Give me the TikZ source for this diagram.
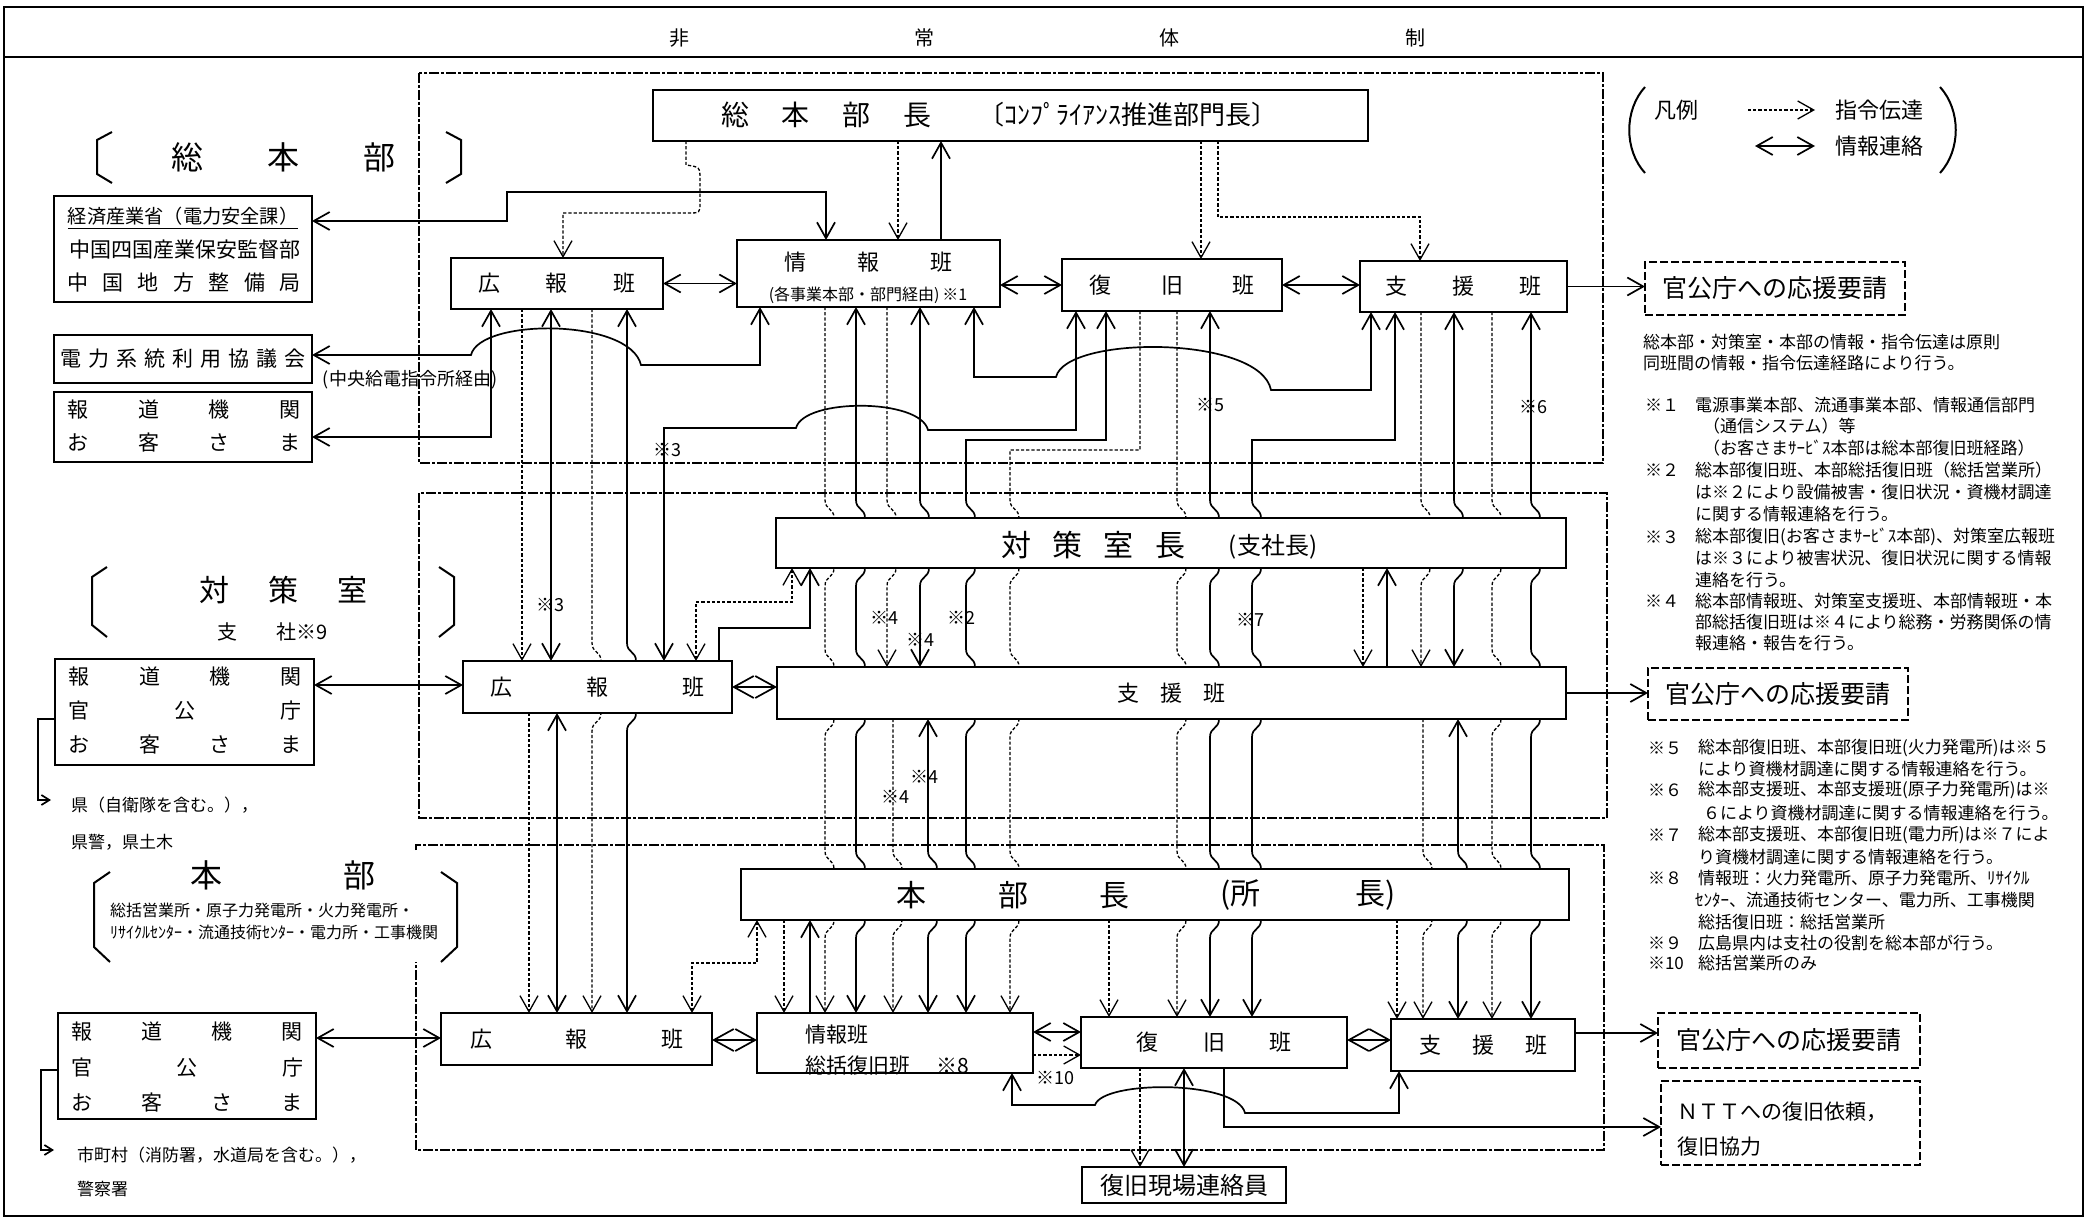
\documentclass[tikz,border=0pt]{standalone}
\usepackage{fontspec}
\setmainfont{Noto Sans CJK JP}
\usetikzlibrary{arrows.meta}
\pgfdeclarelayer{bg}
\pgfsetlayers{bg,main}
\newlength\upx \setlength\upx{0.5pt}
\newcommand{\FS}[1]{\fontsize{#1}{#1}\selectfont}
\newcommand{\BX}[7][]{\node[box,#1,minimum width={(#5-#3)*0.5pt},minimum height={(#6-#4)*0.5pt}] (#2) at ({(#3+#5)/2},{(#4+#6)/2}) {#7};}
\newcommand{\THR}[5]{\draw[#1] #2 \foreach \jT/\jB in {#5} { -- (#3,\jT-18) .. controls (#3,\jT-8) and (#3+9,\jT-10) .. (#3+9,\jT) -- (#3+9,\jB) .. controls (#3+9,\jB+10) and (#3,\jB+8) .. (#3,\jB+18) } -- #4;}
\tikzset{
  x=0.5pt, y=-0.5pt,
  box/.style={draw, line width=1pt, fill=white, inner sep=0pt, outer sep=0pt},
  dbox/.style={dash pattern=on 4pt off 1.5pt, line width=1.1pt},
  frm/.style={line width=1.2pt, dash pattern=on 5pt off 1pt on 1.5pt off 1pt},
  ln/.style={line width=0.85pt},
  dl/.style={line width=0.65pt, dash pattern=on 1.6pt off 1pt},
  ar/.style={-{Straight Barb[length=8pt,width=9pt]}},
  aa/.style={{Straight Barb[length=8pt,width=9pt]}-{Straight Barb[length=8pt,width=9pt]}},
  dia/.style={{Straight Barb[length=10pt,width=11pt]}-{Straight Barb[length=10pt,width=11pt]}},
  sar/.style={-{Straight Barb[length=4pt,width=5pt]}},
  txt/.style={inner sep=0pt, outer sep=0pt},
}
\begin{document}
\begin{tikzpicture}
\useasboundingbox (0,0) rectangle (2088,1225);
% ---------------- boxes ----------------
\BX{gm}{653}{90}{1368}{141}{}
\BX{tkoho}{451}{258}{663}{309}{\FS{11}\makebox[158\upx]{広\hfill 報\hfill 班}}
\BX{tjoho}{737}{240}{1000}{307}{}
\BX{tfk}{1062}{259}{1282}{311}{\FS{11}\makebox[165\upx]{復\hfill 旧\hfill 班}}
\BX{tsh}{1360}{261}{1567}{312}{\FS{11}\makebox[156\upx]{支\hfill 援\hfill 班}}
\BX[dbox]{tkan}{1645}{262}{1905}{315}{\FS{12.5}官公庁への応援要請}
\BX{meti}{54}{196}{312}{302}{}
\BX{denryoku}{54}{335}{312}{383}{\FS{10.5}\makebox[246\upx]{電\hfill 力\hfill 系\hfill 統\hfill 利\hfill 用\hfill 協\hfill 議\hfill 会}}
\BX{thodo}{54}{392}{312}{462}{}
\BX{mcho}{776}{518}{1566}{568}{}
\BX{mkoho}{463}{661}{732}{713}{\FS{11}\makebox[214\upx]{広\hfill 報\hfill 班}}
\BX{msh}{777}{667}{1566}{719}{\FS{11}\makebox[108\upx]{支\hfill 援\hfill 班}}
\BX[dbox]{mkan}{1648}{668}{1908}{720}{\FS{12.5}官公庁への応援要請}
\BX{mhodo}{55}{659}{314}{765}{}
\BX{bcho}{741}{869}{1569}{920}{}
\BX{bkoho}{441}{1013}{712}{1065}{\FS{11}\makebox[213\upx]{広\hfill 報\hfill 班}}
\BX{bjoho}{757}{1013}{1033}{1073}{}
\BX{bfk}{1081}{1017}{1347}{1068}{\FS{11}\makebox[156\upx]{復\hfill 旧\hfill 班}}
\BX{bsh}{1391}{1019}{1575}{1071}{\FS{11}\makebox[128\upx]{支\hfill 援\hfill 班}}
\BX[dbox]{bkan}{1658}{1013}{1920}{1068}{\FS{12.5}官公庁への応援要請}
\BX[dbox]{ntt}{1661}{1081}{1920}{1165}{}
\BX{genba}{1082}{1167}{1286}{1203}{\FS{12}復旧現場連絡員}
\BX{bhodo}{58}{1013}{316}{1119}{}
% ---------------- texts ----------------
\node[txt] (hdr) at (1047,38) {\FS{10}\makebox[756\upx]{非\hfill 常\hfill 体\hfill 制}};
\node[txt] (l1) at (283,157) {\FS{16}\makebox[224\upx]{総\hfill 本\hfill 部}};
\node[txt] (l2) at (283,590) {\FS{15}\makebox[168\upx]{対\hfill 策\hfill 室}};
\node[txt] (l3a) at (227,632) {\FS{10}支};
\node[txt,anchor=west] (l3b) at (276,632) {\FS{10}社※9};
\node[txt] (l4) at (283,875) {\FS{16}\makebox[185\upx]{本\hfill 部}};
\node[txt,anchor=west] (l5) at (110,910) {\FS{8}総括営業所・原子力発電所・火力発電所・};
\node[txt,anchor=west] (l6) at (110,932) {\FS{8}ﾘｻｲｸﾙｾﾝﾀｰ・流通技術ｾﾝﾀｰ・電力所・工事機関};
\node[txt] (m1) at (183,218) {\FS{9.6}\underline{経済産業省（電力安全課）}};
\node[txt] (m2) at (185,250) {\FS{10.5}中国四国産業保安監督部};
\node[txt] (m3) at (184,283) {\FS{10.5}\makebox[234\upx]{中\hfill 国\hfill 地\hfill 方\hfill 整\hfill 備\hfill 局}};
\node[txt] (m4) at (410,380) {\FS{9}(中央給電指令所経由)};
\node[txt] (h1) at (184,410) {\FS{10.5}\makebox[233\upx]{報\hfill 道\hfill 機\hfill 関}};
\node[txt] (h2) at (184,443) {\FS{10.5}\makebox[233\upx]{お\hfill 客\hfill さ\hfill ま}};
\node[txt] (h3) at (185,677) {\FS{10.5}\makebox[233\upx]{報\hfill 道\hfill 機\hfill 関}};
\node[txt] (h4) at (185,711) {\FS{10.5}\makebox[233\upx]{官\hfill 公\hfill 庁}};
\node[txt] (h5) at (185,745) {\FS{10.5}\makebox[233\upx]{お\hfill 客\hfill さ\hfill ま}};
\node[txt,anchor=west] (h6) at (71,805) {\FS{8.5}県（自衛隊を含む。），};
\node[txt,anchor=west] (h7) at (71,842) {\FS{8.5}県警，県土木};
\node[txt] (h8) at (187,1032) {\FS{10.5}\makebox[232\upx]{報\hfill 道\hfill 機\hfill 関}};
\node[txt] (h9) at (187,1068) {\FS{10.5}\makebox[232\upx]{官\hfill 公\hfill 庁}};
\node[txt] (h10) at (187,1102) {\FS{10.5}\makebox[232\upx]{お\hfill 客\hfill さ\hfill ま}};
\node[txt,anchor=west] (h11) at (77,1155) {\FS{8.5}市町村（消防署，水道局を含む。），};
\node[txt,anchor=west] (h12) at (77,1189) {\FS{8.5}警察署};
\node[txt] (g1) at (826,115) {\FS{14}\makebox[210\upx]{総\hfill 本\hfill 部\hfill 長}};
\node[txt] (g2) at (1128,115) {\FS{13}〔ｺﾝﾌﾟﾗｲｱﾝｽ推進部門長〕};
\node[txt] (j1) at (868,262) {\FS{11}\makebox[168\upx]{情\hfill 報\hfill 班}};
\node[txt] (j2) at (868,295) {\FS{8}(各事業本部・部門経由)\,※1};
\node[txt] (c1) at (1093,545) {\FS{15}\makebox[184\upx]{対\hfill 策\hfill 室\hfill 長}};
\node[txt] (c2) at (1273,547) {\FS{12}(支社長)};
\node[txt] (b1) at (1013,895) {\FS{15}\makebox[233\upx]{本\hfill 部\hfill 長}};
\node[txt] (b2) at (1308,895) {\FS{15}\makebox[176\upx]{(所\hfill 長)}};
\node[txt,anchor=west] (b3) at (805,1035) {\FS{10.5}情報班};
\node[txt,anchor=west] (b4) at (805,1066) {\FS{10.5}総括復旧班\hspace{13pt}※8};
\node[txt,anchor=west] (b5) at (1677,1112) {\FS{10.5}ＮＴＴへの復旧依頼，};
\node[txt,anchor=west] (b6) at (1677,1147) {\FS{10.5}復旧協力};
% remark labels
\node[txt] (k1) at (667,450) {\FS{9}※3};
\node[txt] (k2) at (1210,405) {\FS{9}※5};
\node[txt] (k3) at (1533,407) {\FS{9}※6};
\node[txt] (k4) at (550,605) {\FS{9}※3};
\node[txt] (k5) at (884,618) {\FS{9}※4};
\node[txt] (k6) at (961,618) {\FS{9}※2};
\node[txt] (k7) at (920,640) {\FS{9}※4};
\node[txt] (k8) at (1250,620) {\FS{9}※7};
\node[txt] (k9) at (924,777) {\FS{9}※4};
\node[txt] (k10) at (895,797) {\FS{9}※4};
\node[txt] (k11) at (1055,1078) {\FS{9}※10};
% legend
\node[txt] (lg1) at (1676,110) {\FS{11}凡例};
\node[txt,anchor=west] (lg2) at (1835,110) {\FS{11}指令伝達};
\node[txt,anchor=west] (lg3) at (1835,146) {\FS{11}情報連絡};
% notes
\node[txt,anchor=west] (n1) at (1643,342) {\FS{8.5}総本部・対策室・本部の情報・指令伝達は原則};
\node[txt,anchor=west] (n2) at (1643,363) {\FS{8.5}同班間の情報・指令伝達経路により行う。};
\node[txt,anchor=west] (n3) at (1645,405) {\FS{8.5}※１};
\node[txt,anchor=west] (n4) at (1695,405) {\FS{8.5}電源事業本部、流通事業本部、情報通信部門};
\node[txt,anchor=west] (n5) at (1703,426) {\FS{8.5}（通信システム）等};
\node[txt,anchor=west] (n6) at (1703,448) {\FS{8.5}（お客さまｻｰﾋﾞｽ本部は総本部復旧班経路）};
\node[txt,anchor=west] (n7) at (1645,470) {\FS{8.5}※２};
\node[txt,anchor=west] (n8) at (1695,470) {\FS{8.5}総本部復旧班、本部総括復旧班（総括営業所）};
\node[txt,anchor=west] (n9) at (1695,492) {\FS{8.5}は※２により設備被害・復旧状況・資機材調達};
\node[txt,anchor=west] (n10) at (1695,514) {\FS{8.5}に関する情報連絡を行う。};
\node[txt,anchor=west] (n11) at (1645,537) {\FS{8.5}※３};
\node[txt,anchor=west] (n12) at (1695,537) {\FS{8.5}総本部復旧(お客さまｻｰﾋﾞｽ本部)、対策室広報班};
\node[txt,anchor=west] (n13) at (1695,558) {\FS{8.5}は※３により被害状況、復旧状況に関する情報};
\node[txt,anchor=west] (n14) at (1695,580) {\FS{8.5}連絡を行う。};
\node[txt,anchor=west] (n15) at (1645,601) {\FS{8.5}※４};
\node[txt,anchor=west] (n16) at (1695,601) {\FS{8.5}総本部情報班、対策室支援班、本部情報班・本};
\node[txt,anchor=west] (n17) at (1695,622) {\FS{8.5}部総括復旧班は※４により総務・労務関係の情};
\node[txt,anchor=west] (n18) at (1695,643) {\FS{8.5}報連絡・報告を行う。};
\node[txt,anchor=west] (n19) at (1648,748) {\FS{8.5}※５};
\node[txt,anchor=west] (n20) at (1698,748) {\FS{8.5}総本部復旧班、本部復旧班(火力発電所)は※５};
\node[txt,anchor=west] (n21) at (1698,769) {\FS{8.5}により資機材調達に関する情報連絡を行う。};
\node[txt,anchor=west] (n22) at (1648,790) {\FS{8.5}※６};
\node[txt,anchor=west] (n23) at (1698,790) {\FS{8.5}総本部支援班、本部支援班(原子力発電所)は※};
\node[txt,anchor=west] (n24) at (1703,813) {\FS{8.5}６により資機材調達に関する情報連絡を行う。};
\node[txt,anchor=west] (n25) at (1648,835) {\FS{8.5}※７};
\node[txt,anchor=west] (n26) at (1698,835) {\FS{8.5}総本部支援班、本部復旧班(電力所)は※７によ};
\node[txt,anchor=west] (n27) at (1698,857) {\FS{8.5}り資機材調達に関する情報連絡を行う。};
\node[txt,anchor=west] (n28) at (1648,878) {\FS{8.5}※８};
\node[txt,anchor=west] (n29) at (1698,878) {\FS{8.5}情報班：火力発電所、原子力発電所、ﾘｻｲｸﾙ};
\node[txt,anchor=west] (n30) at (1695,900) {\FS{8.5}ｾﾝﾀｰ、流通技術センター、電力所、工事機関};
\node[txt,anchor=west] (n31) at (1698,922) {\FS{8.5}総括復旧班：総括営業所};
\node[txt,anchor=west] (n32) at (1648,943) {\FS{8.5}※９};
\node[txt,anchor=west] (n33) at (1698,943) {\FS{8.5}広島県内は支社の役割を総本部が行う。};
\node[txt,anchor=west] (n34) at (1648,963) {\FS{8.5}※10};
\node[txt,anchor=west] (n35) at (1698,963) {\FS{8.5}総括営業所のみ};
% ---------------- lines (background layer) ----------------
\begin{pgfonlayer}{bg}
\draw[line width=1.3pt] (4,7) rectangle (2083,1216);
\draw[line width=1.3pt] (4,57) -- (2083,57);
\draw[frm] (419,73) rectangle (1603,463);
\draw[frm] (419,493) rectangle (1607,818);
\draw[frm] (416,850) -- (416,845) -- (1604,845) -- (1604,1150) -- (416,1150) -- (416,962);
% brackets
\draw[line width=1pt] (112,132) -- (97,140) -- (97,174) -- (112,183);
\draw[line width=1pt] (446,132) -- (461,140) -- (461,174) -- (446,183);
\draw[line width=1pt] (107,567) -- (92,577) -- (92,625) -- (107,637);
\draw[line width=1pt] (439,567) -- (454,577) -- (454,625) -- (439,637);
\draw[line width=1pt] (110,872) -- (94,883) -- (94,947) -- (110,962);
\draw[line width=1pt] (441,872) -- (457,883) -- (457,947) -- (441,962);
\draw[line width=1pt] (1645,87) .. controls (1624,110) and (1624,150) .. (1645,173);
\draw[line width=1pt] (1940,87) .. controls (1961,110) and (1961,150) .. (1940,173);
\draw[dl,ar] (1748,110) -- (1815,110);
\draw[ln,aa] (1755,146) -- (1815,146);
% top section
\draw[ln,aa] (meti.east |- 0,221) -- (507,221) -- (507,192) -- (826,192) -- (826,0 |- tjoho.north);
\draw[ln,aa] (denryoku.east |- 0,355) -- (471,355) .. controls (480,318) and (630,318) .. (641,365) -- (760,365) -- (760,0 |- tjoho.south);
\draw[ln,aa] (thodo.east |- 0,437) -- (491,437) -- (491,0 |- tkoho.south);
\draw[dl,ar] (686,0 |- gm.south) -- (686,165) .. controls (700,167) .. (700,180) -- (700,203) .. controls (700,213) .. (688,213) -- (563,213) -- (563,0 |- tkoho.north);
\draw[dl,ar] (898,0 |- gm.south) -- (898,0 |- tjoho.north);
\draw[ln,ar] (941,0 |- tjoho.north) -- (941,0 |- gm.south);
\draw[dl,ar] (1201,0 |- gm.south) -- (1201,0 |- tfk.north);
\draw[dl,ar] (1218,0 |- gm.south) -- (1218,217) -- (1420,217) -- (1420,0 |- tsh.north);
\draw[ln,aa] (tkoho.east) -- (tkoho.east -| tjoho.west);
\draw[ln,aa] (tfk.west -| tjoho.east) -- (tfk.west);
\draw[ln,aa] (tfk.east) -- (tfk.east -| tsh.west);
\draw[ln,ar] (tsh.east) -- (tsh.east -| tkan.west);
\draw[ln,aa] (974,0 |- tjoho.south) -- (974,377) -- (1056,377) .. controls (1066,335) and (1260,335) .. (1271,390) -- (1371,390) -- (1371,0 |- tsh.south);
\draw[ln,aa] (664,0 |- mkoho.north) -- (664,428) -- (796,428) .. controls (804,398) and (920,398) .. (928,430) -- (1076,430) -- (1076,0 |- tfk.south);
% under the public relations teams
\draw[dl,ar] (522,0 |- tkoho.south) -- (522,0 |- mkoho.north);
\draw[ln,aa] (551,0 |- tkoho.south) -- (551,0 |- mkoho.north);
\THR{dl,ar}{(592,0 |- tkoho.south)}{592}{(592,0 |- bkoho.north)}{661/713}
\THR{ln,aa}{(627,0 |- tkoho.south)}{627}{(627,0 |- bkoho.north)}{661/713}
\draw[dl,ar] (529,0 |- mkoho.south) -- (529,0 |- bkoho.north);
\draw[ln,aa] (557,0 |- mkoho.south) -- (557,0 |- bkoho.north);
% through lines
\THR{dl,ar}{(825,0 |- tjoho.south)}{825}{(825,0 |- bjoho.north)}{518/568,667/719,869/920}
\THR{ln,aa}{(856,0 |- tjoho.south)}{856}{(856,0 |- bjoho.north)}{518/568,667/719,869/920}
\THR{dl,ar}{(887,0 |- tjoho.south)}{887}{(887,0 |- msh.north)}{518/568}
\THR{ln,aa}{(920,0 |- tjoho.south)}{920}{(920,0 |- msh.north)}{518/568}
\THR{dl,ar}{(893,0 |- msh.south)}{893}{(893,0 |- bjoho.north)}{869/920}
\THR{ln,aa}{(928,0 |- msh.south)}{928}{(928,0 |- bjoho.north)}{869/920}
\THR{ln,aa}{(1106,0 |- tfk.south) -- (1106,440) -- (966,440)}{966}{(966,0 |- bjoho.north)}{518/568,667/719,869/920}
\THR{dl,ar}{(1140,0 |- tfk.south) -- (1140,450) -- (1010,450)}{1010}{(1010,0 |- bjoho.north)}{518/568,667/719,869/920}
\THR{dl,ar}{(1177,0 |- tfk.south)}{1177}{(1177,0 |- bfk.north)}{518/568,667/719,869/920}
\THR{ln,aa}{(1210,0 |- tfk.south)}{1210}{(1210,0 |- bfk.north)}{518/568,667/719,869/920}
\THR{ln,aa}{(1395,0 |- tsh.south) -- (1395,440) -- (1252,440)}{1252}{(1252,0 |- bfk.north)}{518/568,667/719,869/920}
\THR{dl,ar}{(1421,0 |- tsh.south)}{1421}{(1421,0 |- msh.north)}{518/568}
\THR{ln,aa}{(1454,0 |- tsh.south)}{1454}{(1454,0 |- msh.north)}{518/568}
\THR{dl,ar}{(1423,0 |- msh.south)}{1423}{(1423,0 |- bsh.north)}{869/920}
\THR{ln,aa}{(1458,0 |- msh.south)}{1458}{(1458,0 |- bsh.north)}{869/920}
\THR{dl,ar}{(1492,0 |- tsh.south)}{1492}{(1492,0 |- bsh.north)}{518/568,667/719,869/920}
\THR{ln,aa}{(1531,0 |- tsh.south)}{1531}{(1531,0 |- bsh.north)}{518/568,667/719,869/920}
% middle section
\draw[dl,aa] (696,0 |- mkoho.north) -- (696,602) -- (792,602) -- (792,0 |- mcho.south);
\draw[ln,ar] (719,0 |- mkoho.north) -- (719,628) -- (810,628) -- (810,0 |- mcho.south);
\draw[dl,ar] (1363,0 |- mcho.south) -- (1363,0 |- msh.north);
\draw[ln,ar] (1387,0 |- msh.north) -- (1387,0 |- mcho.south);
\draw[ln,aa] (mhodo.east |- 0,685) -- (mkoho.west |- 0,685);
\draw[ln,dia] (mkoho.east) -- (mkoho.east -| msh.west);
\draw[ln,ar] (msh.east) -- (msh.east -| mkan.west);
\draw[ln,sar] (mhodo.west |- 0,719) -- (38,719) -- (38,800) -- (51,800);
% bottom section
\draw[dl,aa] (757,0 |- bcho.south) -- (757,963) -- (692,963) -- (692,0 |- bkoho.north);
\draw[dl,ar] (784,0 |- bcho.south) -- (784,0 |- bjoho.north);
\draw[ln,ar] (810,0 |- bjoho.north) -- (810,0 |- bcho.south);
\draw[dl,ar] (1109,0 |- bcho.south) -- (1109,0 |- bfk.north);
\draw[dl,ar] (1397,0 |- bcho.south) -- (1397,0 |- bsh.north);
\draw[ln,aa] (bhodo.east |- 0,1038) -- (bkoho.west |- 0,1038);
\draw[ln,dia] (bkoho.east |- 0,1040) -- (bjoho.west |- 0,1040);
\draw[ln,aa] (bjoho.east |- 0,1032) -- (bfk.west |- 0,1032);
\draw[dl,ar] (bjoho.east |- 0,1055) -- (bfk.west |- 0,1055);
\draw[ln,dia] (bfk.east |- 0,1040) -- (bsh.west |- 0,1040);
\draw[ln,ar] (bsh.east |- 0,1033) -- (bkan.west |- 0,1033);
\draw[ln,aa] (1012,0 |- bjoho.south) -- (1012,1105) -- (1095,1105) .. controls (1103,1080) and (1237,1080) .. (1245,1113) -- (1399,1113) -- (1399,0 |- bsh.south);
\draw[ln,ar] (1224,0 |- bfk.south) -- (1224,1127) -- (ntt.west |- 0,1127);
\draw[dl,ar] (1140,0 |- bfk.south) -- (1140,0 |- genba.north);
\draw[ln,aa] (1184,0 |- bfk.south) -- (1184,0 |- genba.north);
\draw[ln,sar] (bhodo.west |- 0,1070) -- (41,1070) -- (41,1150) -- (54,1150);
\end{pgfonlayer}
\end{tikzpicture}
\end{document}
